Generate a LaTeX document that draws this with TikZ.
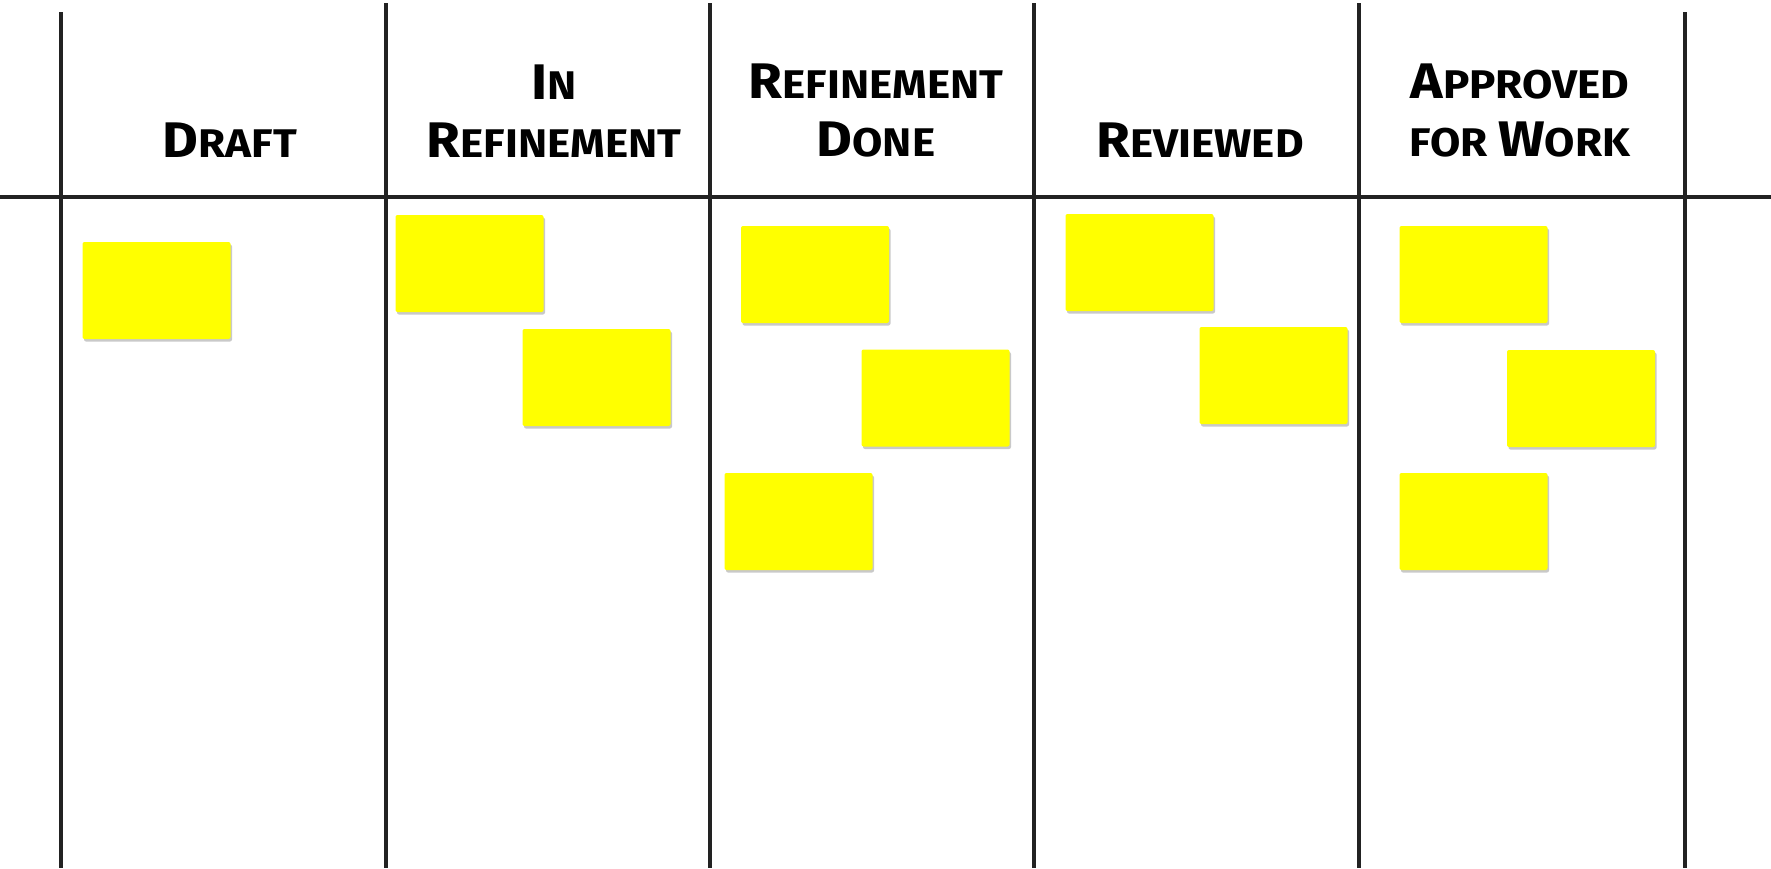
\documentclass[tikz,border=0pt]{standalone}
\usepackage{fontspec}
\setmainfont{Fira Sans}[FakeStretch=1.1]
\usetikzlibrary{shadows}
\definecolor{notey}{RGB}{255,255,0}
\definecolor{linec}{RGB}{34,34,34}
\newcommand{\bigc}[1]{{\fontsize{50}{58}\selectfont #1}}
\newcommand{\smc}[1]{{\fontsize{40}{58}\selectfont #1}}
\tikzset{
  board/.style={draw=linec, line width=4.2pt},
  hdr/.style={font=\bfseries\fontsize{40}{58}\selectfont, align=center, text=black, inner sep=0pt},
  sticky/.style={rectangle, fill=notey, minimum width=148pt, minimum height=97pt, inner sep=0pt,
    rounded corners=2pt, drop shadow={shadow xshift=1.5pt, shadow yshift=-2.5pt, opacity=0.35, fill=black!60}}
}
\begin{document}
\begin{tikzpicture}[x=1pt,y=-1pt]
\useasboundingbox (0,0) rectangle (1771,868);
\fill[white] (0,0) rectangle (1771,868);
% board lines
\draw[board] (0,197) -- (1771,197);
\draw[board] (61,12) -- (61,868);
\draw[board] (386,3) -- (386,868);
\draw[board] (710,3) -- (710,868);
\draw[board] (1034,3) -- (1034,868);
\draw[board] (1359,3) -- (1359,868);
\draw[board] (1685,12) -- (1685,868);
% headers
\node[hdr] (hdraft) at (230,140) {\bigc{D}\smc{RAFT}};
\node[hdr] (hinref) at (554,111) {\bigc{I}\smc{N}\\\bigc{R}\smc{EFINEMENT}};
\node[hdr] (hrefdone) at (876,111) {\bigc{R}\smc{EFINEMENT}\\\bigc{D}\smc{ONE}};
\node[hdr] (hreview) at (1200,140) {\bigc{R}\smc{EVIEWED}};
\node[hdr] (happrove) at (1520,111) {\bigc{A}\smc{PPROVED}\\\smc{FOR }\bigc{W}\smc{ORK}};
% sticky notes
\node[sticky] (d1) at (156.5,290.5) {};
\node[sticky] (r1) at (469.5,263.5) {};
\node[sticky] (r2) at (596.5,377.5) {};
\node[sticky] (rd1) at (815,274.5) {};
\node[sticky] (rd2) at (935.5,398) {};
\node[sticky] (rd3) at (798.5,521.5) {};
\node[sticky] (v1) at (1139.5,262.5) {};
\node[sticky] (v2) at (1273.5,375.5) {};
\node[sticky] (a1) at (1473.5,274.5) {};
\node[sticky] (a2) at (1581,398.5) {};
\node[sticky] (a3) at (1473.5,521.5) {};
\end{tikzpicture}
\end{document}
